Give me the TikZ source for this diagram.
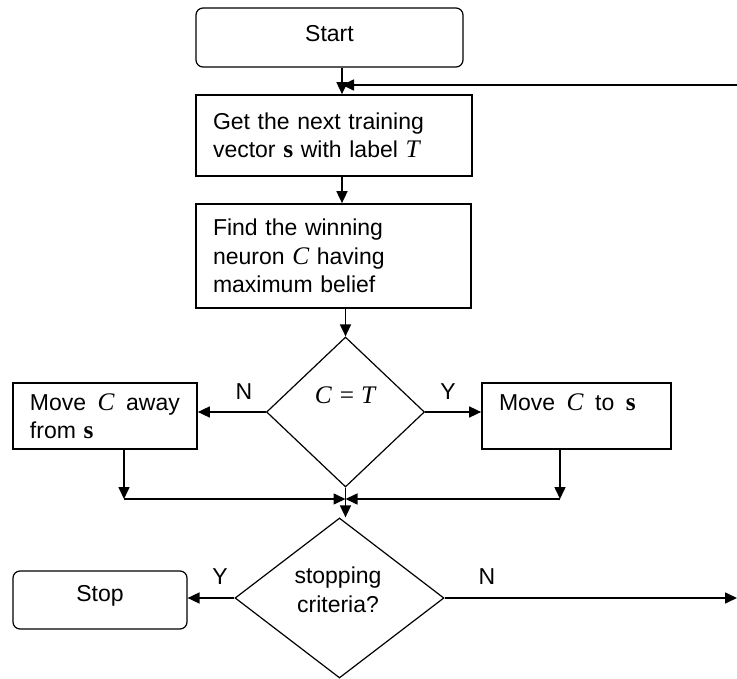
\documentclass[tikz,border=0pt]{standalone}
\usepackage{fontspec}
\setmainfont{Liberation Sans}
\newfontfamily\serifmath[Scale=1.1]{Liberation Serif}
\usetikzlibrary{shapes.geometric,arrows.meta}
\newcommand{\symC}{{\serifmath\itshape C}}
\newcommand{\symT}{{\serifmath\itshape T}}
\newcommand{\vecs}{{\serifmath\bfseries s}}

\begin{document}
\begin{tikzpicture}[x=1pt,y=-1pt,font=\fontsize{23}{28.5}\selectfont,
  box/.style={draw,line width=1.7pt,inner xsep=17pt,inner ysep=0pt,align=left},
  term/.style={draw,line width=1.2pt,rounded corners=7pt},
  test/.style={draw,diamond,line width=1.2pt,inner sep=0pt},
  arr/.style={line width=1.6pt,-{Triangle[length=12pt,width=11pt]}}]
\useasboundingbox (0,0) rectangle (737,679);
\coordinate (spine) at (342,0);
\coordinate (back) at (737,85);
% boxes
\node[term,minimum width=267pt,minimum height=59pt] (start) at (329.5,37.5) {\raisebox{4pt}[\height][\depth]{Start}};
\node[box,text width=242pt,minimum height=81pt] (get) at (334,135.5) {Get the next training\\vector \vecs{} with label \symT};
\node[box,text width=241pt,minimum height=104pt] (find) at (333.5,256) {Find the winning\\neuron \symC{} having\\maximum belief};
\node[test,minimum width=158pt,minimum height=150pt] (match) at (345.5,412) {};
\node (matchtxt) at (345,395) {\symC\hspace{8pt}{\serifmath =}\hspace{7pt}\symT};
\node[box,text width=150pt,minimum height=66pt] (away) at (105,416) {Move\enspace\symC\enspace away\\from \vecs};
\node[box,text width=155pt,minimum height=66pt] (toward) at (576.5,416) {Move\enspace\symC\enspace to\enspace\vecs\\\mbox{}};
\node[test,minimum width=209pt,minimum height=160pt] (stopq) at (339.5,598) {};
\node[align=center] (stoptxt) at (338,590) {stopping\\criteria?};
\node[term,minimum width=174pt,minimum height=58pt] (halt) at (100,600) {\raisebox{4pt}[\height][\depth]{Stop}};
% labels
\node (noA) at (244,392) {N};
\node (yesA) at (448,392) {Y};
\node (yesB) at (220,577) {Y};
\node (noB) at (487,577) {N};
% connectors
\draw[arr] (start.south -| spine) -- (get.north -| spine);
\draw[arr] (back) -- (back -| spine);
\draw[arr] (get.south -| spine) -- (find.north -| spine);
\draw[arr] (find.south -| match.north) -- (match.north);
\draw[arr] (match.west) -- (match.west -| away.east);
\draw[arr] (match.east) -- (match.east -| toward.west);
\coordinate (joinL) at (124,499);
\coordinate (joinR) at (560,499);
\draw[arr] (away.south -| joinL) -- (joinL);
\draw[arr] (joinL) -- (match.south |- joinL);
\draw[arr] (toward.south -| joinR) -- (joinR);
\draw[arr] (joinR) -- (match.south |- joinR);
\draw[arr] (match.south) -- (match.south |- stopq.north);
\draw[arr] (stopq.west) -- (stopq.west -| halt.east);
\draw[arr] (stopq.east) -- (stopq.east -| back);
\end{tikzpicture}
\end{document}
